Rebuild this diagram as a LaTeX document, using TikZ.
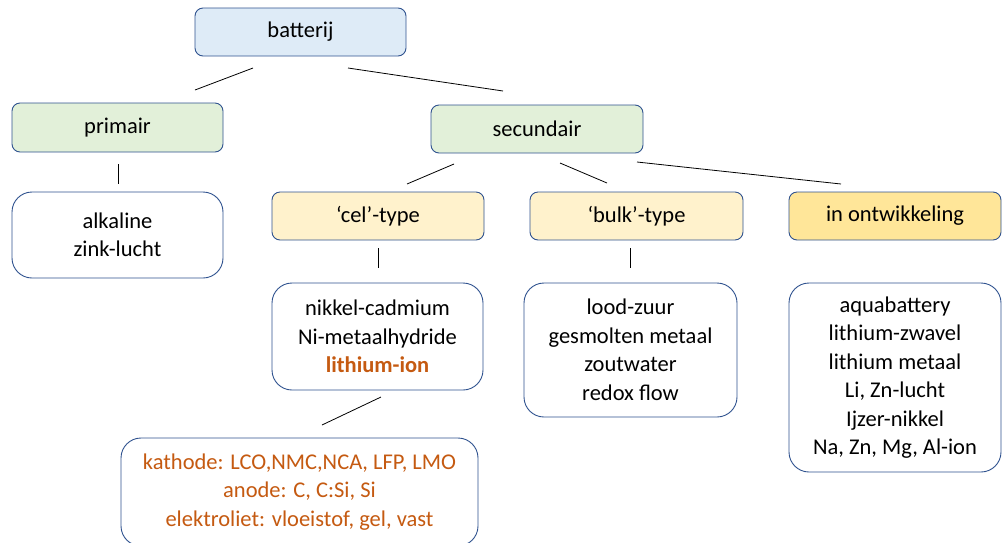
\documentclass[tikz,border=0pt]{standalone}
\usepackage{fontspec}
\setmainfont{Carlito}
\definecolor{bord}{HTML}{2F528F}
\definecolor{bluef}{HTML}{DEEBF7}
\definecolor{greenf}{HTML}{E2F0D9}
\definecolor{yelf}{HTML}{FFF2CC}
\definecolor{gold}{HTML}{FFE699}
\definecolor{orng}{HTML}{C55A11}
\tikzset{
  hdr/.style={draw=bord, line width=0.9pt, rounded corners=8pt, align=center, inner sep=0pt},
  lst/.style={draw=bord, line width=0.9pt, rounded corners=20pt, fill=white, align=center, inner sep=0pt},
  conn/.style={line width=0.8pt, black}
}
\begin{document}
\begin{tikzpicture}[x=1pt,y=-1pt,font=\fontsize{22.5}{28.5}\selectfont]
\useasboundingbox (0,0) rectangle (1002,542);
% header nodes
\node[hdr, fill=bluef, minimum width=211pt, minimum height=48pt] (batterij) at (300.5,32) {batterij};
\node[hdr, fill=greenf, minimum width=211pt, minimum height=49pt] (primair) at (117.5,127.5) {primair};
\node[hdr, fill=greenf, minimum width=212pt, minimum height=48pt] (secundair) at (537,129) {secundair};
\node[hdr, fill=yelf, minimum width=212pt, minimum height=48pt] (cel) at (378,216) {‘cel’-type};
\node[hdr, fill=yelf, minimum width=213pt, minimum height=48pt] (bulk) at (636.5,216) {‘bulk’-type};
\node[hdr, fill=gold, minimum width=212pt, minimum height=48pt] (ontw) at (895,216) {in ontwikkeling};
% list nodes
\node[lst, minimum width=211pt, minimum height=86pt] (prlist) at (117.5,235) {alkaline\\zink-lucht};
\node[lst, minimum width=211pt, minimum height=107pt] (cellist) at (377.5,336.5) {nikkel-cadmium\\Ni-metaalhydride\\\textcolor{orng}{\textbf{lithium-ion}}};
\node[lst, minimum width=213pt, minimum height=134pt] (bulklist) at (630.5,350) {lood-zuur\\gesmolten metaal\\zoutwater\\redox flow};
\node[lst, minimum width=212pt, minimum height=189pt] (ontwlist) at (895,377.5) {aquabattery\\lithium-zwavel\\lithium metaal\\Li, Zn-lucht\\Ijzer-nikkel\\Na, Zn, Mg, Al-ion};
\node[lst, minimum width=357pt, minimum height=108pt, text=orng] (liion) at (299.5,492) {kathode: LCO,NMC,NCA, LFP, LMO\\anode: C, C:Si, Si\\elektroliet: vloeistof, gel, vast};
% connector end points
\coordinate (a1) at (253,68);  \coordinate (a2) at (195,90);
\coordinate (b1) at (348,68);  \coordinate (b2) at (503,91);
\coordinate (c1) at (118,164); \coordinate (c2) at (118,184);
\coordinate (d1) at (454,164); \coordinate (d2) at (407,184);
\coordinate (e1) at (560,163); \coordinate (e2) at (607,183);
\coordinate (f1) at (637,162); \coordinate (f2) at (841,184);
\coordinate (g1) at (378,248); \coordinate (g2) at (378,268);
\coordinate (h1) at (630,248); \coordinate (h2) at (630,268);
\coordinate (i1) at (381,397); \coordinate (i2) at (322,425);
\draw[conn] (a1) -- (a2);
\draw[conn] (b1) -- (b2);
\draw[conn] (c1) -- (c2);
\draw[conn] (d1) -- (d2);
\draw[conn] (e1) -- (e2);
\draw[conn] (f1) -- (f2);
\draw[conn] (g1) -- (g2);
\draw[conn] (h1) -- (h2);
\draw[conn] (i1) -- (i2);
\end{tikzpicture}
\end{document}
